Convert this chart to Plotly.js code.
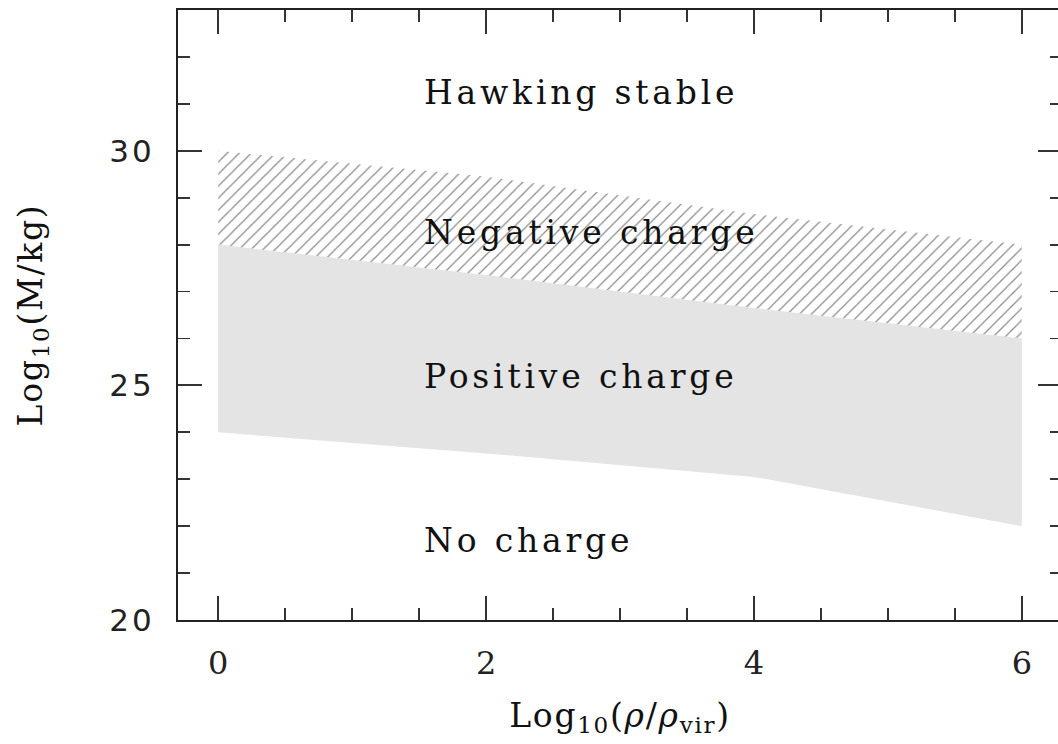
<!DOCTYPE html>
<html>
<head>
<meta charset="utf-8">
<script src="https://cdn.plot.ly/plotly-3.0.1.min.js"></script>
<style>
  html, body { margin: 0; padding: 0; background: #fff; overflow: hidden; }
  #chart { width: 1072px; height: 744px; }
  /* wide, airy lettering for the region labels and axis text */
  .annotation-text { letter-spacing: 3.8px; }
  .xtitle, .ytitle { letter-spacing: 1.7px; }
  .ytick text { letter-spacing: 3px; }
</style>
</head>
<body>
<div id="chart"></div>
<script>
// log10 of density relative to the virial density
const logRho = [0, 2, 4, 6];
// Region boundaries in log10(M/kg)
const noChargeUpper = [24.0, 23.55, 23.05, 22.0];   // bottom of the positive-charge band
const positiveUpper = [28.0, 27.35, 26.65, 26.0];   // top of positive / bottom of negative band
const negativeUpper = [30.0, 29.45, 28.65, 28.0];   // top of the negative-charge band

// Region labels
const regionNames = ["Hawking stable", "Negative charge", "Positive charge", "No charge"];
const regionLabelY = [31.25, 28.25, 25.2, 21.7];
const labelX = 1.52;

// Axis ticks
const xTicks = [0, 2, 4, 6];
const yTicks = [20, 25, 30];

// closed polygon between a lower and an upper boundary
function band(lower, upper) {
  const xs = logRho.concat(logRho.slice().reverse());
  const ys = lower.concat(upper.slice().reverse());
  return { xs: xs, ys: ys };
}

const pos = band(noChargeUpper, positiveUpper);
const neg = band(positiveUpper, negativeUpper);

const traces = [
  {
    type: "scatter", mode: "lines",
    x: pos.xs, y: pos.ys,
    fill: "toself", fillcolor: "#e4e4e4",
    line: { width: 0 }, hoverinfo: "skip", showlegend: false
  },
  {
    type: "scatter", mode: "lines",
    x: neg.xs, y: neg.ys,
    fill: "toself", fillcolor: "rgba(255,255,255,0)",
    fillpattern: { shape: "/", size: 8.5, solidity: 0.14, fgcolor: "#888888", bgcolor: "rgba(255,255,255,0)" },
    line: { width: 0 }, hoverinfo: "skip", showlegend: false
  }
];

const serif = "DejaVu Serif, Liberation Serif, serif";

const annotations = regionNames.map((t, i) => ({
  text: t, x: labelX, y: regionLabelY[i],
  xref: "x", yref: "y", xanchor: "left", yanchor: "middle",
  showarrow: false,
  font: { family: serif, size: 33, color: "#111" }
}));

const axisCommon = {
  showgrid: false, zeroline: false,
  showline: true, linecolor: "#222", linewidth: 2,
  mirror: "allticks",
  ticks: "inside", tickcolor: "#333", tickwidth: 2
};

const layout = {
  width: 1072, height: 744,
  margin: { l: 178, r: 10, t: 10, b: 124 },
  paper_bgcolor: "#fff", plot_bgcolor: "#fff",
  showlegend: false,
  xaxis: Object.assign({}, axisCommon, {
    range: [-0.3, 6.3],
    tickmode: "array", tickvals: xTicks, ticktext: xTicks.map(String),
    ticklen: 24, ticklabelstandoff: 14,
    minor: { dtick: 0.5, ticks: "inside", ticklen: 12, tickwidth: 1.8, tickcolor: "#333", showgrid: false },
    tickfont: { family: serif, size: 32, color: "#222" },
    title: { text: "Log<sub>10</sub>(<i>ρ</i>/<i>ρ</i><sub>vir</sub>)", font: { family: serif, size: 33, color: "#111" }, standoff: 22 }
  }),
  yaxis: Object.assign({}, axisCommon, {
    range: [20, 33],
    tickmode: "array", tickvals: yTicks, ticktext: yTicks.map(String),
    ticklen: 24, ticklabelstandoff: 15,
    minor: { dtick: 1, ticks: "inside", ticklen: 12, tickwidth: 1.8, tickcolor: "#333", showgrid: false },
    tickfont: { family: "DejaVu Sans, Liberation Sans, sans-serif", size: 31, color: "#222" },
    title: { text: "Log<sub>10</sub>(M/kg)", font: { family: serif, size: 33, color: "#111" }, standoff: 57 }
  }),
  annotations: annotations
};

Plotly.newPlot("chart", traces, layout, { displayModeBar: false, staticPlot: true });
</script>
</body>
</html>
